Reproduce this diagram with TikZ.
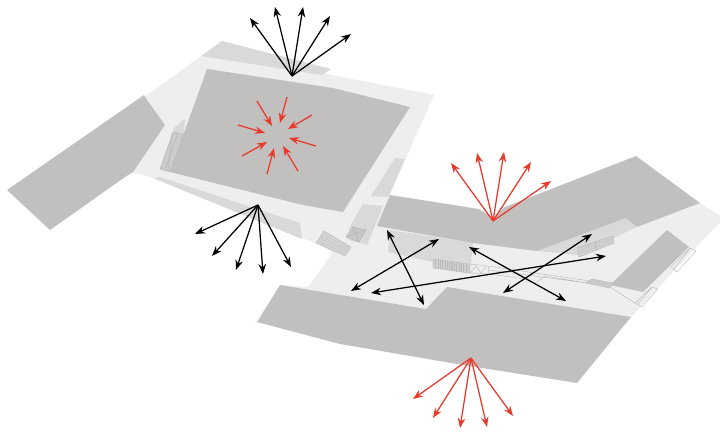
\documentclass[tikz,border=0pt]{standalone}
\usetikzlibrary{arrows.meta,calc}
\definecolor{bldg}{HTML}{C2C0BF}
\definecolor{pale}{HTML}{EEEEEE}
\definecolor{mid}{HTML}{DAD9D8}
\definecolor{redarrow}{HTML}{E8392A}
\tikzset{
  x=1pt,y=-1pt,
  blackarrow/.style={draw=black,line width=1.25pt,-{Stealth[length=10pt,width=7.5pt]}},
  blackdouble/.style={draw=black,line width=1.25pt,{Stealth[length=10pt,width=7.5pt]}-{Stealth[length=10pt,width=7.5pt]}},
  redray/.style={draw=redarrow,line width=1.25pt,-{Stealth[length=10pt,width=7.5pt]}},
  thin line/.style={draw=black!32,line width=.3pt},
  hatchbox/.style={fill=black!17,draw=black!32,line width=.3pt},
}
\newcommand{\hatchquad}[5]{% a b c d steps: lines between ab and dc
  \foreach \t in {1,...,#5}{
    \pgfmathsetmacro{\f}{\t/(#5+1)}
    \draw[thin line,draw=black!27,line width=.2pt] ($#1!\f!#2$) -- ($#4!\f!#3$);
  }
}
\begin{document}
\begin{tikzpicture}
\useasboundingbox (0,0) rectangle (720,432);
\fill[white] (0,0) rectangle (720,432);
% pale ground
\fill[pale] (146,96) -- (201,56) -- (322,73) -- (434,95) -- (414,140) -- (390,195) -- (377,226)
  -- (537,251) -- (637,227) -- (700,203) -- (720,216) -- (720,222) -- (631,317) -- (447,287)
  -- (426,309) -- (280,285) -- (308,287) -- (330,256) -- (331,251) -- (316,243) -- (302,238)
  -- (153,178) -- (133,172) -- (165,125) -- cycle;
% medium patches
\fill[mid] (222,41) -- (331,69) -- (322,75) -- (290,70) -- (201,56) -- cycle;
\fill[mid] (153,178) -- (160,177) -- (300,223) -- (302,239) -- cycle;
\fill[mid] (395,158) -- (405,159) -- (388,197) -- (371,196) -- cycle;
\fill[mid] (363,204) -- (383,206) -- (367,245) -- (349,240) -- (349,228) -- cycle;
\fill[mid] (390,230) -- (473,243) -- (470,274) -- (433,262) -- (388,252) -- cycle;
\fill[mid] (626,218) -- (637,227) -- (577,255) -- (537,251) -- cycle;
\fill[mid] (174,128) -- (185,119) -- (184,134) -- (173,133) -- cycle;
% buildings
\fill[bldg] (144,95) -- (165,125) -- (133,172) -- (125,177) -- (50,230) -- (7,190) -- cycle;
\fill[bldg] (207,69) -- (333,88) -- (410,107) -- (343,212) -- (303,205) -- (170,172) -- (188,122) -- cycle;
\fill[bldg] (390,195) -- (479,209) -- (493,218) -- (505,207) -- (636,156) -- (700,203) -- (637,227)
  -- (626,218) -- (537,251) -- (473,243) -- (377,226) -- cycle;
\fill[bldg] (280,285) -- (426,309) -- (447,287) -- (631,317) -- (577,383) -- (463,365) -- (340,344) -- (257,322) -- cycle;
\fill[bldg] (667,230) -- (689,247) -- (643,292) -- (610,285) -- cycle;
% left stair
\fill[black!20] (173,132) -- (184,134) -- (170,172) -- (160,169) -- cycle;
\draw[thin line] (173,132) -- (184,134) -- (170,172) -- (160,169) -- cycle (178,133) -- (165,170) (172,133) -- (168,171);
% hatched stairs
\draw[hatchbox,fill=mid] (324,231) -- (351,247) -- (345,256) -- (316,243) -- cycle;
\hatchquad{(324,231)}{(351,247)}{(345,256)}{(316,243)}{12}
\hatchquad{(324,231)}{(316,243)}{(345,256)}{(351,247)}{4}
\draw[hatchbox,fill=black!22] (353,227) -- (366,230) -- (359,242) -- (346,237) -- cycle (353,227) -- (359,242) (346,237) -- (366,230);
\draw[hatchbox] (433,259) -- (468,264) -- (468,273) -- (433,268) -- cycle (452,262) -- (451,271);
\hatchquad{(433,259)}{(468,264)}{(468,273)}{(433,268)}{14}
\hatchquad{(433,259)}{(433,268)}{(468,273)}{(468,264)}{3}
\draw[thin line] (469,264) -- (488,266) -- (489,274) -- (470,273) -- cycle (470,273) -- (476,266) -- (481,273) -- (486,266);
\draw[thin line] (488,266) -- (590,281) (489,270) -- (587,283) (489,274) -- (525,279) (525,282) -- (537,282) -- (545,276) -- (587,283);
\draw[hatchbox] (577,248) -- (613,236) -- (614,243) -- (579,257) -- cycle (595,242) -- (597,250);
\hatchquad{(577,248)}{(613,236)}{(614,243)}{(579,257)}{12}
\hatchquad{(577,248)}{(579,257)}{(614,243)}{(613,236)}{2}
\draw[hatchbox] (586,283) -- (592,279) -- (613,283) -- (609,288) -- cycle;
\hatchquad{(586,283)}{(592,279)}{(613,283)}{(609,288)}{6}
% thin outlines right end
\draw[thin line] (690,248) -- (696,251) -- (677,272) -- (671,267) -- cycle (690,248) -- (674,269);
\draw[thin line] (652,287) -- (658,289) -- (642,307) -- (635,303) -- cycle (652,287) -- (638,304);
\draw[thin line] (610,287) -- (635,303);
% hubs
\coordinate (hubTop) at (292,76);
\coordinate (hubLow) at (258,205);
\coordinate (hubMid) at (493,221);
\coordinate (hubBot) at (471,358);
% black rays out of the top hub
\foreach \n/\x/\y in {a/250/18,b/275/7,c/303/7,d/330/16,e/351/34}{
  \coordinate (top\n) at (\x,\y);
  \draw[blackarrow] (hubTop) -- (top\n);
}
% black rays from the lower hub
\foreach \n/\x/\y in {a/195/234,b/212/256,c/236/270,d/263/274,e/291/267}{
  \coordinate (low\n) at (\x,\y);
  \draw[blackarrow] (hubLow) -- (low\n);
}
% red rays
\foreach \n/\x/\y in {a/451/163,b/477/153,c/504/152,d/531/162,e/551/181}{
  \coordinate (mid\n) at (\x,\y);
  \draw[redray] (hubMid) -- (mid\n);
}
\foreach \n/\x/\y in {a/413/399,b/433/418,c/460/428,d/487/427,e/513/416}{
  \coordinate (bot\n) at (\x,\y);
  \draw[redray] (hubBot) -- (bot\n);
}
% red inward arrows
\foreach \n/\ax/\ay/\bx/\by in {a/257/101/272/126,b/287/97/280/123,c/312/115/288/129,d/316/146/289/138,
  e/298/171/283/146,f/267/174/274/148,g/242/156/267/142,h/238/125/265/133}{
  \coordinate (ra\n) at (\ax,\ay);
  \coordinate (rb\n) at (\bx,\by);
  \draw[redray] (ra\n) -- (rb\n);
}
% double-headed arrows
\foreach \n/\ax/\ay/\bx/\by in {a/351/291/439/239,b/387/230/424/305,c/371/293/606/256,d/469/247/566/301,e/592/234/503/293}{
  \coordinate (da\n) at (\ax,\ay);
  \coordinate (db\n) at (\bx,\by);
  \draw[blackdouble] (da\n) -- (db\n);
}
\end{tikzpicture}
\end{document}
